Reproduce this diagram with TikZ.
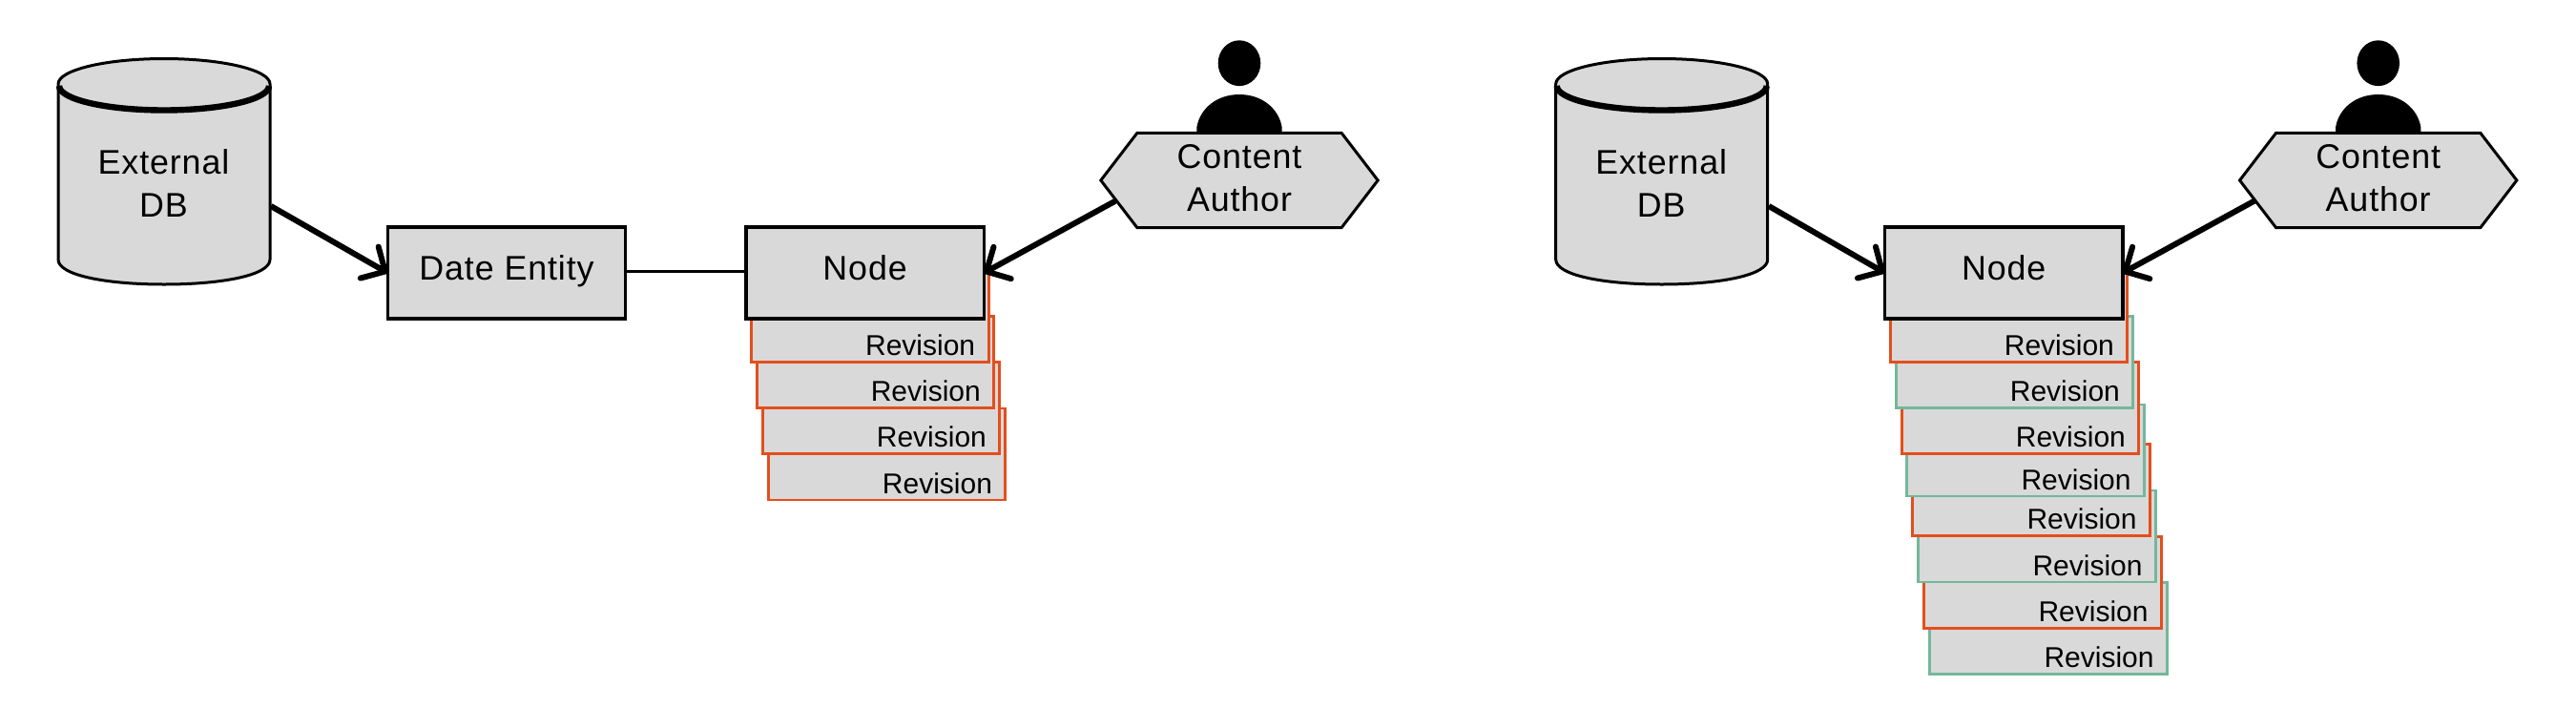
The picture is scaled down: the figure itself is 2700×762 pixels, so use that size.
\documentclass[tikz,border=0pt]{standalone}
\usepackage{fontspec}
\setmainfont{Liberation Sans}
\newfontfamily\wideface[LetterSpace=2.5]{Liberation Sans}
\usetikzlibrary{arrows.meta,shapes.symbols}
\definecolor{boxgray}{HTML}{D9D9D9}
\definecolor{revorange}{HTML}{E44E1C}
\definecolor{revgreen}{HTML}{74B79C}
\newcommand{\bigfont}{\wideface\fontsize{17.9}{22.4}\selectfont}
\newcommand{\smallfontrev}{\fontsize{15}{18}\selectfont}
\tikzset{
  boxnode/.style={draw=black,fill=boxgray,line width=1.6pt,inner sep=0pt,outer sep=0pt,
    minimum height=48pt,font=\bigfont,text height=12pt,text depth=5pt},
  revbox/.style={fill=boxgray,line width=1.45pt,inner sep=0pt,outer sep=0pt,
    minimum width=124.3pt,minimum height=48pt,text width=110.4pt,align=right,
    font=\smallfontrev,text height=41pt,text depth=0pt},
  revo/.style={revbox,draw=revorange},
  revg/.style={revbox,draw=revgreen},
  hexnode/.style={shape=signal,signal to=east and west,signal pointer angle=105,draw=black,fill=boxgray,
    line width=1.5pt,inner sep=0pt,outer sep=0pt,minimum width=145.2pt,minimum height=49.7pt,
    align=center,font=\bigfont,text height=34.3pt,text depth=2.3pt},
  dbnode/.style={inner sep=0pt,outer sep=0pt,minimum width=111pt,minimum height=118.5pt,
    align=center,font=\bigfont,text height=47.7pt,text depth=0pt},
  flow/.style={line width=3pt,-{Straight Barb[length=9.5pt,width=19pt,round]}},
  plain/.style={line width=1.5pt},
  dbshape/.pic={
    \draw[fill=boxgray,line width=1.5pt] (61,88) arc[start angle=180,end angle=360,x radius=111,y radius=26.5]
       -- (283,272) .. controls (283,288) and (235,298) .. (172,298)
       .. controls (109,298) and (61,288) .. (61,272) -- cycle;
    \draw[line width=3.2pt,line cap=butt] (62,90) arc[start angle=180,end angle=0,x radius=110,y radius=25.5];
  },
  personshape/.pic={
    \fill (1299,66.2) ellipse[x radius=22.3,y radius=23.9];
    \fill (1254.5,141) -- (1254.4,133) .. controls (1258,113) and (1276,99) .. (1299,99)
       .. controls (1322,99) and (1340,113) .. (1343.6,133) -- (1343.5,141) -- cycle;
  }
}
\begin{document}
\begin{tikzpicture}[x=0.5pt,y=-0.5pt]
\useasboundingbox (0,0) rectangle (2700,762);
% left diagram
\pic at (0,0) {dbshape};
\node[dbnode] (dbA) at (171.5,180) {External\\DB};
\coordinate (dbAout) at (284,216);
\node[boxnode,minimum width=124.7pt] (dateA) at (531,286) {Date Entity};
\node[revo] (a4) at (929.6,476) {Revision};
\node[revo] (a3) at (923.5,427.7) {Revision};
\node[revo] (a2) at (917.4,379.5) {Revision};
\node[revo] (a1) at (911.8,331.6) {Revision};
\node[boxnode,minimum width=124.7pt] (nodeA) at (906.6,286) {Node};
\pic at (0,0) {personshape};
\node[hexnode] (hexA) at (1299,189) {Content\\Author};
\coordinate (hexAout) at (1169,210.7);
\draw[flow] (dbAout) -- (dateA.west);
\draw[plain] (dateA.east |- 0,284) -- (nodeA.west |- 0,284);
\draw[flow] (hexAout) -- (nodeA.east);
% right diagram
\pic at (1569.7,0) {dbshape};
\node[dbnode] (dbB) at (1741.2,180) {External\\DB};
\coordinate (dbBout) at (1854,216);
\node[revg] (b8) at (2147.2,658.7) {Revision};
\node[revo] (b7) at (2141.2,610.3) {Revision};
\node[revg] (b6) at (2135.2,562) {Revision};
\node[revo] (b5) at (2129.2,513.8) {Revision};
\node[revg] (b4) at (2123.2,472) {Revision};
\node[revo] (b3) at (2117.5,427.3) {Revision};
\node[revg] (b2) at (2111.5,379.3) {Revision};
\node[revo] (b1) at (2105.5,331.3) {Revision};
\node[boxnode,minimum width=124.7pt] (nodeB) at (2100.2,286) {Node};
\pic at (1193.7,0) {personshape};
\node[hexnode] (hexB) at (2492.7,189) {Content\\Author};
\coordinate (hexBout) at (2362.7,210.7);
\draw[flow] (dbBout) -- (nodeB.west);
\draw[flow] (hexBout) -- (nodeB.east);
\end{tikzpicture}
\end{document}
